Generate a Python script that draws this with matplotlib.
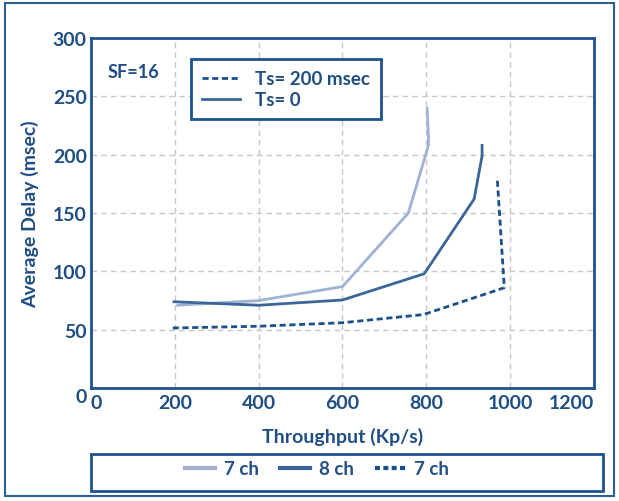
import matplotlib
matplotlib.use("Agg")
import matplotlib.pyplot as plt
from matplotlib.lines import Line2D
from matplotlib.patches import Rectangle

# throughput (Kp/s) vs average delay (msec), SF=16
tp_7ch_ts0 = [207, 400, 600, 757, 805, 805, 802]
delay_7ch_ts0 = [71, 75, 87, 150, 208, 216, 240]

tp_8ch_ts0 = [198, 400, 600, 795, 914, 933, 933]
delay_8ch_ts0 = [74, 71, 75.5, 98, 162, 199, 208]

tp_7ch_ts200 = [195, 400, 600, 793, 986, 969]
delay_7ch_ts200 = [51.5, 53, 56, 63, 86, 181]

x_ticks = [0, 200, 400, 600, 800, 1000, 1200]
y_ticks = [0, 50, 100, 150, 200, 250, 300]

TEXT = "#1f4e85"
FRAME = "#1d5290"
LIGHT = "#9fb2d3"
MID = "#3b6699"
DARK = "#1a4f8a"

plt.rcParams['font.family'] = ['Lato', 'DejaVu Sans']
plt.rcParams['font.weight'] = 'bold'

fig = plt.figure(figsize=(6.19, 5.02), dpi=100)
ax = fig.add_axes([0.147, 0.225, 0.8126, 0.697])

ax.plot(tp_7ch_ts0, delay_7ch_ts0, color=LIGHT, lw=2)
ax.plot(tp_8ch_ts0, delay_8ch_ts0, color=MID, lw=2)
ax.plot(tp_7ch_ts200, delay_7ch_ts200, color=DARK, lw=2, linestyle=(0, (2.2, 1.3)))

ax.set_xlim(0, 1200)
ax.set_ylim(0, 300)
ax.set_xticks(x_ticks)
ax.set_yticks(y_ticks)
ax.set_xticklabels([str(v) for v in x_ticks])
ax.set_yticklabels([str(v) for v in y_ticks])
ax.tick_params(length=0, labelsize=14, labelcolor=TEXT, pad=4)
ax.tick_params(axis='y', pad=3)
xl = ax.get_xticklabels()
xl[0].set_ha('left')
xl[-1].set_ha('right')
ax.get_yticklabels()[0].set_va('top')
for t in ax.get_xticklabels() + ax.get_yticklabels():
    t.set_fontweight('bold')

ax.grid(True, color='#c6c6c6', linestyle=(0, (4, 3)), lw=1)
for s in ax.spines.values():
    s.set_color(FRAME)
    s.set_linewidth(2)

ax.set_xlabel("Throughput (Kp/s)", fontsize=14, color=TEXT, fontweight='bold', labelpad=12)
ax.set_ylabel("Average Delay (msec)", fontsize=14, color=TEXT, fontweight='bold', labelpad=10)

ax.text(0.032, 0.906, "SF=16", transform=ax.transAxes, fontsize=13,
        color=TEXT, fontweight='bold', va='center')

inner = [Line2D([], [], color=DARK, lw=2, linestyle=(0, (2.2, 1.3))),
         Line2D([], [], color=MID, lw=2)]
leg = ax.legend(inner, ["Ts= 200 msec", "Ts= 0"], loc='upper left',
                bbox_to_anchor=(0.199, 0.94), borderaxespad=0, fancybox=False, framealpha=1,
                edgecolor=FRAME, fontsize=13.5, handlelength=2.0,
                borderpad=0.6, labelspacing=0.2, handletextpad=0.8)
leg.get_frame().set_linewidth(2)
for t in leg.get_texts():
    t.set_color(TEXT)

# bottom legend box
fig.patches.append(Rectangle((0.147, 0.02), 0.827, 0.074, transform=fig.transFigure,
                             fill=False, edgecolor=FRAME, lw=2))
bottom = [Line2D([], [], color=LIGHT, lw=3),
          Line2D([], [], color=MID, lw=3),
          Line2D([], [], color=DARK, lw=3, linestyle=(0, (1.2, 0.8)))]
leg2 = fig.legend(bottom, ["7 ch", "8 ch", "7 ch"], loc='center',
                  bbox_to_anchor=(0.512, 0.064), ncol=3, frameon=False,
                  fontsize=13.5, handlelength=1.6, handletextpad=0.5, columnspacing=1.1)
for t in leg2.get_texts():
    t.set_color(TEXT)

# outer frame
fig.patches.append(Rectangle((0.008, 0.01), 0.984, 0.982, transform=fig.transFigure,
                             fill=False, edgecolor="#2a5f95", lw=1.5))

fig.savefig("out.png", dpi=100)
